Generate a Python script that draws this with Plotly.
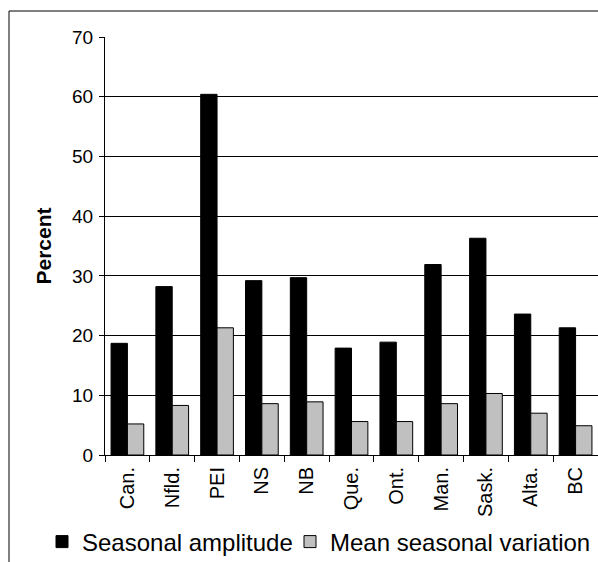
import plotly.graph_objects as go

# Provinces and the two seasonal measures (percent)
regions = ["Can.", "Nfld.", "PEI", "NS", "NB", "Que.", "Ont.", "Man.", "Sask.", "Alta.", "BC"]
seasonal_amplitude = [18.7, 28.2, 60.4, 29.2, 29.7, 17.9, 18.9, 31.9, 36.3, 23.6, 21.3]
mean_seasonal_variation = [5.2, 8.3, 21.3, 8.6, 8.9, 5.6, 5.6, 8.6, 10.3, 7.0, 4.9]
y_ticks = [0, 10, 20, 30, 40, 50, 60, 70]

FONT = "Liberation Sans, Arial, sans-serif"

fig = go.Figure()
fig.add_trace(go.Bar(
    x=regions, y=seasonal_amplitude, name="Seasonal amplitude",
    marker=dict(color="#000000", line=dict(color="#000000", width=1)),
    legend="legend",
))
fig.add_trace(go.Bar(
    x=regions, y=mean_seasonal_variation, name="Mean seasonal variation",
    marker=dict(color="#c0c0c0", line=dict(color="#000000", width=1)),
    legend="legend2",
))

L, T, B = 105, 37, 107
W, H = 598, 562
pw, ph = W - L, H - T - B

def px_x(p):
    return (p - L) / pw

def px_y(p):
    return (H - B - p) / ph

def legend_at(x_px, y_px):
    return dict(
        orientation="h", xref="container", yref="container",
        x=x_px / W, xanchor="left", y=(H - y_px) / H, yanchor="middle",
        font=dict(size=24, family=FONT),
        bgcolor="rgba(0,0,0,0)", itemclick=False,
    )

fig.update_layout(
    width=W, height=H,
    margin=dict(l=L, r=0, t=T, b=B, autoexpand=False),
    paper_bgcolor="white", plot_bgcolor="white",
    barmode="group", bargap=0.27, bargroupgap=0.0,
    font=dict(family=FONT, size=18, color="#000000"),
    showlegend=True,
    legend=legend_at(42, 542),
    legend2=legend_at(290, 542),
    xaxis=dict(
        type="category", tickangle=-90, showgrid=False, automargin=False,
        showline=True, linecolor="#000000", linewidth=1,
        ticks="outside", ticklen=6, tickcolor="#000000",
        tickson="boundaries", tickfont=dict(size=20), ticklabelstandoff=3,
    ),
    yaxis=dict(
        range=[0, 70], tickvals=y_ticks, showgrid=True, automargin=False,
        gridcolor="#000000", gridwidth=1, zeroline=False,
        showline=True, linecolor="#000000", linewidth=1,
        ticks="outside", ticklen=5, tickcolor="#000000",
        tickfont=dict(size=19), ticklabelstandoff=2,
        title=dict(text="<b>Percent</b>", font=dict(size=21), standoff=14),
    ),
    shapes=[dict(
        type="rect", xref="paper", yref="paper",
        x0=px_x(9), x1=1.02, y0=px_y(580), y1=px_y(11),
        line=dict(color="#000000", width=1), fillcolor="rgba(0,0,0,0)",
        layer="below",
    )],
)

fig.write_html("out.html")
